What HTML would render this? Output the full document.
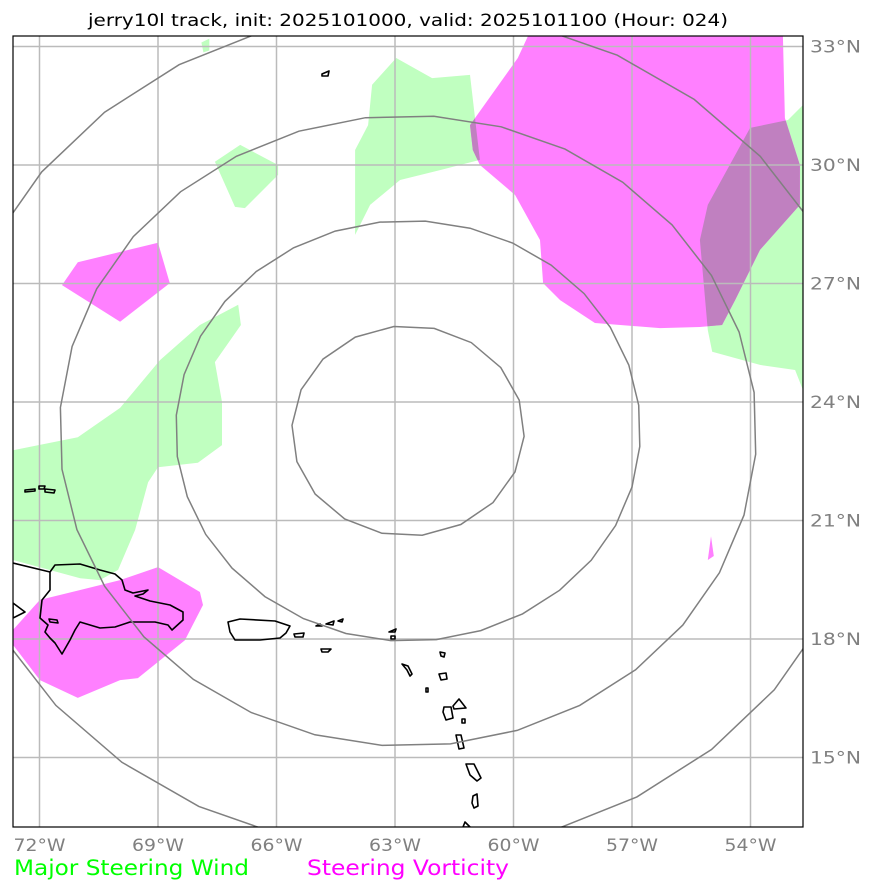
<!DOCTYPE html>
<html><head><meta charset="utf-8"><style>
body{margin:0;background:#fff;width:874px;height:891px;overflow:hidden;font-family:"DejaVu Sans","Liberation Sans",sans-serif}
</style></head><body>
<svg id="c" width="874" height="891" xmlns="http://www.w3.org/2000/svg">
<defs><clipPath id="plot"><rect x="13" y="36" width="790" height="791"/></clipPath></defs>
<text x="408" y="26" text-anchor="middle" font-size="17" fill="#000" textLength="640" lengthAdjust="spacingAndGlyphs">jerry10l track, init: 2025101000, valid: 2025101100 (Hour: 024)</text>
<g id="fills" clip-path="url(#plot)"></g>
<g id="grid" clip-path="url(#plot)"></g>
<g id="coast" clip-path="url(#plot)"></g>
<g id="rings" clip-path="url(#plot)"></g>
<rect x="13" y="36" width="790" height="791" fill="none" stroke="#000" stroke-width="1.2"/>
<g id="ticks"></g>
<text x="14" y="875" font-size="21" fill="#00ff00" textLength="235" lengthAdjust="spacingAndGlyphs">Major Steering Wind</text>
<text x="307" y="875" font-size="21" fill="#ff00ff" textLength="202" lengthAdjust="spacingAndGlyphs">Steering Vorticity</text>
</svg>
<script>
const lonTicks=[-72,-69,-66,-63,-60,-57,-54];
const latTicks=[33,30,27,24,21,18,15];
const ringRadiiKm=[300,600,900,1200];
const stormCenter=[-62.67,23.27];
const windAreas=[
 [[-72.67,22.78],[-71.03,23.11],[-69.96,23.85],[-68.95,25.06],[-67.94,25.95],[-66.97,26.46],[-66.9,25.95],[-67.56,25.01],[-67.38,24.0],[-67.38,22.91],[-67.99,22.46],[-69.0,22.35],[-69.25,21.97],[-69.58,20.76],[-70.01,19.75],[-70.47,19.49],[-70.97,19.54],[-72.67,20.0]],
 [[-67.56,30.08],[-66.92,30.51],[-65.96,30.0],[-65.96,29.75],[-66.8,28.91],[-67.05,28.94]],
 [[-64.01,30.38],[-63.68,31.01],[-63.58,32.03],[-62.97,32.71],[-62.06,32.2],[-61.1,32.28],[-60.85,30.13],[-61.86,29.87],[-62.87,29.62],[-63.63,28.99],[-64.01,28.23]],
 [[-55.08,28.99],[-54.01,30.94],[-53.05,31.14],[-52.67,31.52],[-52.67,24.3],[-52.87,24.81],[-53.76,24.94],[-54.97,25.27],[-55.08,25.82],[-55.28,28.1]],
 [[-67.9,33.1],[-67.7,33.2],[-67.7,32.9],[-67.85,32.85]]
];
const vortAreas=[
 [[-61.1,31.01],[-59.89,32.71],[-59.63,33.27],[-53.18,33.27],[-53.13,31.19],[-52.75,30.0],[-52.75,28.99],[-53.76,27.85],[-54.39,26.58],[-54.72,25.95],[-55.28,25.9],[-56.29,25.87],[-57.94,26.0],[-58.82,26.58],[-59.25,27.01],[-59.33,28.1],[-59.96,29.24],[-60.85,30.0],[-61.03,30.38]],
 [[-71.43,26.96],[-71.03,27.54],[-69.0,28.03],[-68.7,27.01],[-69.96,26.03]],
 [[-72.67,18.23],[-71.99,18.99],[-70.97,19.24],[-69.96,19.49],[-69.0,19.82],[-67.94,19.19],[-67.86,18.86],[-68.32,17.97],[-69.51,17.01],[-69.96,16.96],[-71.03,16.51],[-71.99,16.96],[-72.67,17.85]],
 [[-55.08,20.0],[-55.0,20.6],[-54.93,20.1]]
];
// coastline outlines (approximate)
const coastPx=[
 [[13,563],[50,572],[55,565],[80,564],[100,570],[115,574],[122,580],[125,590],[133,593],[148,590],[143,594],[135,596],[150,601],[170,605],[183,612],[183,620],[172,630],[168,625],[155,622],[130,622],[115,627],[100,628],[80,622],[75,630],[70,640],[62,654],[55,643],[50,638],[45,632],[48,625],[40,618],[42,600],[50,590],[50,572]],
 [[13,603],[25,612],[13,618]],
 [[49,619],[57,620],[58,623],[50,622]],
 [[228,622],[240,619],[275,621],[290,626],[286,633],[280,638],[260,640],[235,640],[230,632]],
 [[294,634],[304,633],[303,637],[295,637]],
 [[321,649],[331,649],[328,652],[322,652]],
 [[440,652],[445,653],[444,657],[441,656]],
 [[402,664],[408,666],[412,674],[410,676],[407,670]],
 [[439,674],[446,673],[447,679],[441,680]],
 [[426,688],[428,688],[428,692],[426,692]],
 [[444,707],[451,707],[453,718],[446,720],[443,712]],
 [[453,706],[459,699],[466,708],[454,709]],
 [[462,719],[465,719],[465,723],[462,723]],
 [[456,735],[461,735],[464,748],[459,749]],
 [[466,764],[474,764],[481,778],[477,781],[470,775]],
 [[473,796],[477,794],[478,806],[474,808],[472,803]],
 [[463,827],[465,822],[470,827]],
 [[322,74],[329,71],[328,76],[322,76]],
 [[316,626],[320,624],[322,626]],[[326,624],[334,621],[333,625]],[[338,621],[343,619],[342,622]],
 [[389,632],[396,629],[395,632]],[[391,636],[395,636],[395,639],[391,639]],
 [[25,490],[35,489],[35,491],[25,492]],[[39,486],[45,486],[44,489],[39,489]],[[45,489],[55,490],[54,493],[45,492]]
];
const X=lon=>395+(lon+63)*39.5, Y=lat=>402-(lat-24)*39.5;
const NS='http://www.w3.org/2000/svg';
function mk(tag,parent,attrs){const e=document.createElementNS(NS,tag);for(const k in attrs)e.setAttribute(k,attrs[k]);parent.appendChild(e);return e;}
const pts=a=>a.map(p=>X(p[0]).toFixed(1)+','+Y(p[1]).toFixed(1)).join(' ');
const fills=document.getElementById('fills');
const defs=document.querySelector('defs');
const gclip=mk('clipPath',defs,{id:'greenclip'});
windAreas.forEach((a,i)=>{
 const p=mk('polygon',fills,{points:pts(a),fill:'#c0ffc0'});
 
 
 mk('polygon',gclip,{points:pts(a)});
});
vortAreas.forEach(a=>{
 const p=mk('polygon',fills,{points:pts(a),fill:'#ff80ff'});
 
 
 const o=mk('polygon',fills,{points:pts(a),fill:'#c080c0','clip-path':'url(#greenclip)'});
 
 
});
const grid=document.getElementById('grid'),ticks=document.getElementById('ticks');
lonTicks.forEach(l=>{
 const g=mk('line',grid,{x1:X(l),x2:X(l),y1:36,y2:827,stroke:'#bbb','stroke-width':1.5});
 
 
 const t=mk('text',ticks,{x:X(l),y:851,'text-anchor':'middle','font-size':17,fill:'#808080',textLength:52,lengthAdjust:'spacingAndGlyphs'});
 t.textContent=Math.abs(l)+'°W';
 
 
});
latTicks.forEach(l=>{
 const g=mk('line',grid,{x1:13,x2:803,y1:Y(l),y2:Y(l),stroke:'#bbb','stroke-width':1.5});
 
 
 const t=mk('text',ticks,{x:810,y:Y(l)+6,'font-size':17,fill:'#808080',textLength:51,lengthAdjust:'spacingAndGlyphs'});
 t.textContent=l+'°N';
 
 
});
const coast=document.getElementById('coast');
coastPx.forEach(a=>{
 const p=mk('polygon',coast,{points:a.map(q=>q.join(',')).join(' '),fill:'none',stroke:'#000','stroke-width':1.6,'stroke-linejoin':'round'});
 
 
});
const rings=document.getElementById('rings');
ringRadiiKm.forEach((r,k)=>{
 const dLat=r/111*0.985, dLon=r/(111*Math.cos(stormCenter[1]*Math.PI/180));
 const n=k===0?18:32;
 const a=[];for(let i=0;i<n;i++){const t=(i/n*360-7)*Math.PI/180;a.push([stormCenter[0]+dLon*Math.sin(t),stormCenter[1]+dLat*Math.cos(t)]);}
 const p=mk('polygon',rings,{points:pts(a),fill:'none',stroke:'#808080','stroke-width':1.5});
 
 
});
</script>
</body></html>
